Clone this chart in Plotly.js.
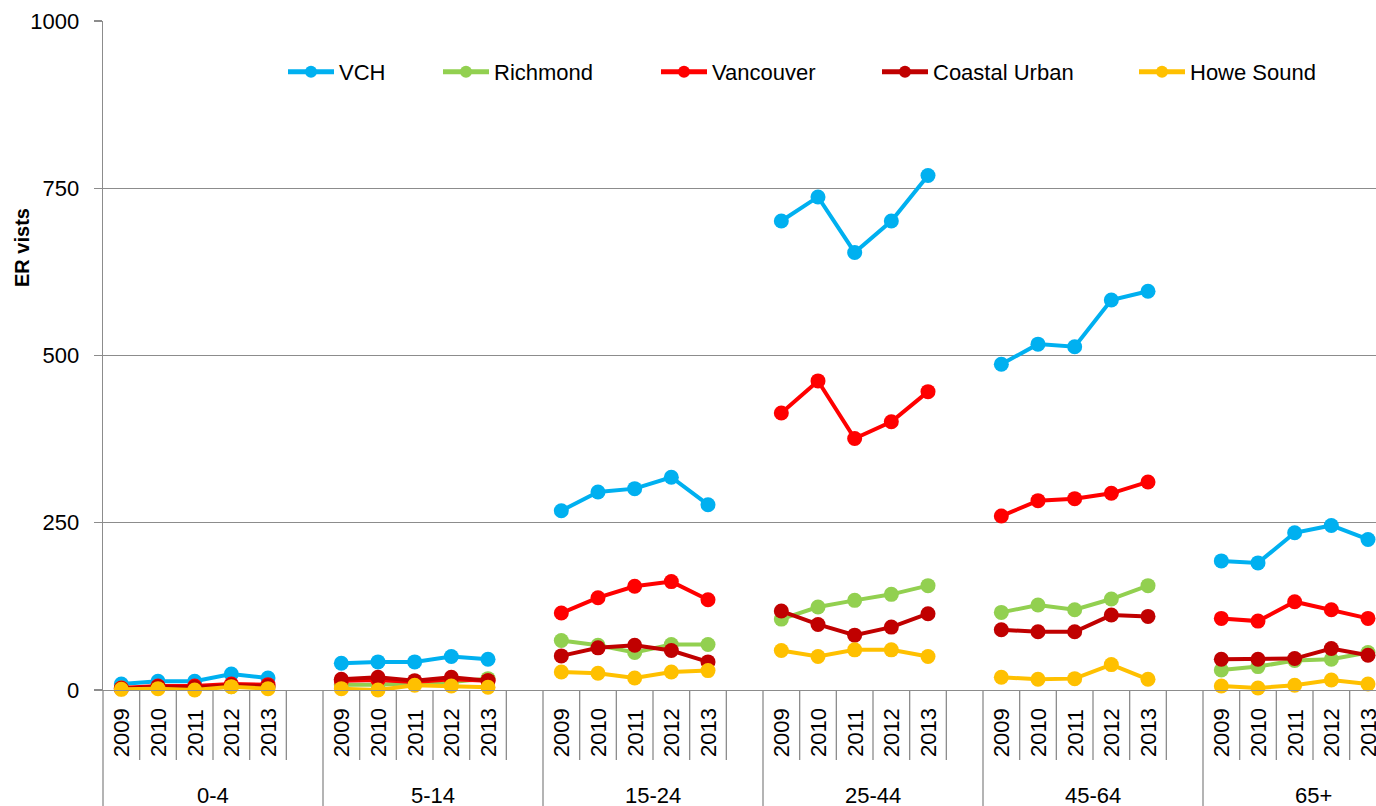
<!DOCTYPE html>
<html>
<head>
<meta charset="utf-8">
<script src="https://cdn.plot.ly/plotly-3.0.1.min.js"></script>
<style>
html,body{margin:0;padding:0;overflow:hidden;background:#fff;}
#chart{width:1433px;height:830px;}
</style>
</head>
<body>
<div id="chart"></div>
<script>
// ---- data ----
var groups = ['0-4', '5-14', '15-24', '25-44', '45-64', '65+'];
var years = ['2009', '2010', '2011', '2012', '2013'];

var seriesNames = ['VCH', 'Richmond', 'Vancouver', 'Coastal Urban', 'Howe Sound'];
var seriesColors = ['#00B0F0', '#92D050', '#FF0000', '#C00000', '#FFC000'];

// values: 6 age groups x 5 years (2009..2013)
var vch = [
  9, 13, 13, 24, 18,
  40, 42, 42, 50, 46,
  268, 296, 301, 318, 277,
  701, 737, 654, 701, 769,
  487, 517, 513, 583, 596,
  193, 190, 235, 246, 225
];
var richmond = [
  3, 4, 3, 5, 4,
  8, 8, 10, 12, 17,
  74, 67, 56, 68, 68,
  106, 124, 134, 143, 156,
  116, 127, 120, 136, 156,
  30, 35, 44, 46, 56
];
var vancouver = [
  3, 6, 6, 9, 8,
  14, 15, 12, 16, 14,
  115, 138, 155, 162, 135,
  414, 462, 376, 401, 446,
  260, 283, 286, 294, 311,
  107, 103, 132, 120, 107
];
var coastalUrban = [
  2, 5, 4, 7, 6,
  16, 19, 14, 19, 14,
  51, 63, 67, 59, 42,
  118, 98, 82, 94, 114,
  90, 87, 87, 112, 110,
  46, 46, 47, 62, 52
];
var howeSound = [
  1, 2, 0, 5, 2,
  2, 0, 7, 6, 4,
  27, 25, 18, 27, 29,
  59, 50, 60, 60, 50,
  19, 16, 17, 38, 16,
  6, 3, 7, 15, 9
];
var seriesValues = [vch, richmond, vancouver, coastalUrban, howeSound];

// ---- layout constants ----
var slotsPerGroup = years.length + 1;           // 5 years + 1 empty slot
var nSlots = groups.length * slotsPerGroup;     // 36
var W = 1433, H = 830, ML = 103, MR = 10, MT = 21, MB = 140;
var plotW = W - ML - MR, plotH = H - MT - MB;
function pyPaper(px) { return (H - MB - px) / plotH; }   // page y pixel -> paper y
function pxPaper(px) { return (px - ML) / plotW; }        // page x pixel -> paper x

var gray = '#8C8C8C';
var fontFam = '"Liberation Sans", Arial, sans-serif';

// ---- traces (gap slot between groups breaks the line) ----
var traces = [];
var legendLineStarts = [288, 443, 661, 882, 1139];
seriesNames.forEach(function (name, s) {
  var xs = [], ys = [];
  groups.forEach(function (g, gi) {
    years.forEach(function (yr, yi) {
      xs.push(gi * slotsPerGroup + yi);
      ys.push(seriesValues[s][gi * years.length + yi]);
    });
    xs.push(gi * slotsPerGroup + years.length);
    ys.push(null);
  });
  traces.push({
    type: 'scatter',
    mode: 'lines+markers',
    name: name,
    x: xs,
    y: ys,
    connectgaps: false,
    line: {color: seriesColors[s], width: 4},
    marker: {color: seriesColors[s], size: 15},
    legend: s === 0 ? 'legend' : 'legend' + (s + 1),
    cliponaxis: false,
    hoverinfo: 'x+y+name'
  });
});

// ---- category axis decoration ----
var shapes = [];
for (var k = 0; k <= nSlots; k++) {
  var isGroupEdge = (k % slotsPerGroup === 0);
  var xp = k / nSlots;
  shapes.push({
    type: 'line', xref: 'paper', yref: 'paper',
    x0: xp, x1: xp,
    y0: 0, y1: isGroupEdge ? pyPaper(H + 5) : pyPaper(760),
    line: {color: gray, width: 1.3},
    layer: 'below'
  });
}

var annotations = [];
groups.forEach(function (g, gi) {
  years.forEach(function (yr, yi) {
    annotations.push({
      xref: 'x', yref: 'paper',
      x: gi * slotsPerGroup + yi, y: pyPaper(733),
      text: yr, showarrow: false, textangle: -90,
      xanchor: 'center', yanchor: 'middle',
      font: {family: fontFam, size: 22, color: '#000'}
    });
  });
  annotations.push({
    xref: 'x', yref: 'paper',
    x: gi * slotsPerGroup + (slotsPerGroup - 1) / 2, y: pyPaper(795),
    text: g, showarrow: false,
    xanchor: 'center', yanchor: 'middle',
    font: {family: fontFam, size: 22, color: '#000'}
  });
});
// y axis title
annotations.push({
  xref: 'paper', yref: 'paper',
  x: pxPaper(22), y: pyPaper(248),
  text: '<b>ER vists</b>', showarrow: false, textangle: -90,
  xanchor: 'center', yanchor: 'middle',
  font: {family: fontFam, size: 20, color: '#000'}
});

var layout = {
  width: W, height: H,
  margin: {l: ML, r: MR, t: MT, b: MB, pad: 0},
  paper_bgcolor: '#fff', plot_bgcolor: '#fff',
  showlegend: true,
  xaxis: {
    range: [-0.5, nSlots - 0.5],
    showticklabels: false, showgrid: false, zeroline: false,
    showline: true, linecolor: gray, linewidth: 1.3, ticks: '',
    fixedrange: true
  },
  yaxis: {
    range: [0, 1000],
    tickvals: [0, 250, 500, 750, 1000],
    ticktext: ['0', '250', '500', '750', '1000'],
    showgrid: true, gridcolor: gray, gridwidth: 1.3,
    zeroline: false, showline: true, linecolor: gray, linewidth: 1.3,
    ticks: 'outside', ticklen: 8, tickcolor: gray, tickwidth: 1.3,
    ticklabelstandoff: 10,
    tickfont: {family: fontFam, size: 22, color: '#000'},
    fixedrange: true
  },
  shapes: shapes,
  annotations: annotations
};
seriesNames.forEach(function (name, s) {
  var key = s === 0 ? 'legend' : 'legend' + (s + 1);
  layout[key] = {
    x: pxPaper(legendLineStarts[s] - 5), xanchor: 'left',
    y: pyPaper(72), yanchor: 'middle',
    orientation: 'h',
    bgcolor: 'rgba(0,0,0,0)', borderwidth: 0,
    itemsizing: 'constant',
    itemwidth: 46,
    font: {family: fontFam, size: 22, color: '#000'}
  };
});

Plotly.newPlot('chart', traces, layout, {displayModeBar: false, staticPlot: true});
</script>
</body>
</html>
